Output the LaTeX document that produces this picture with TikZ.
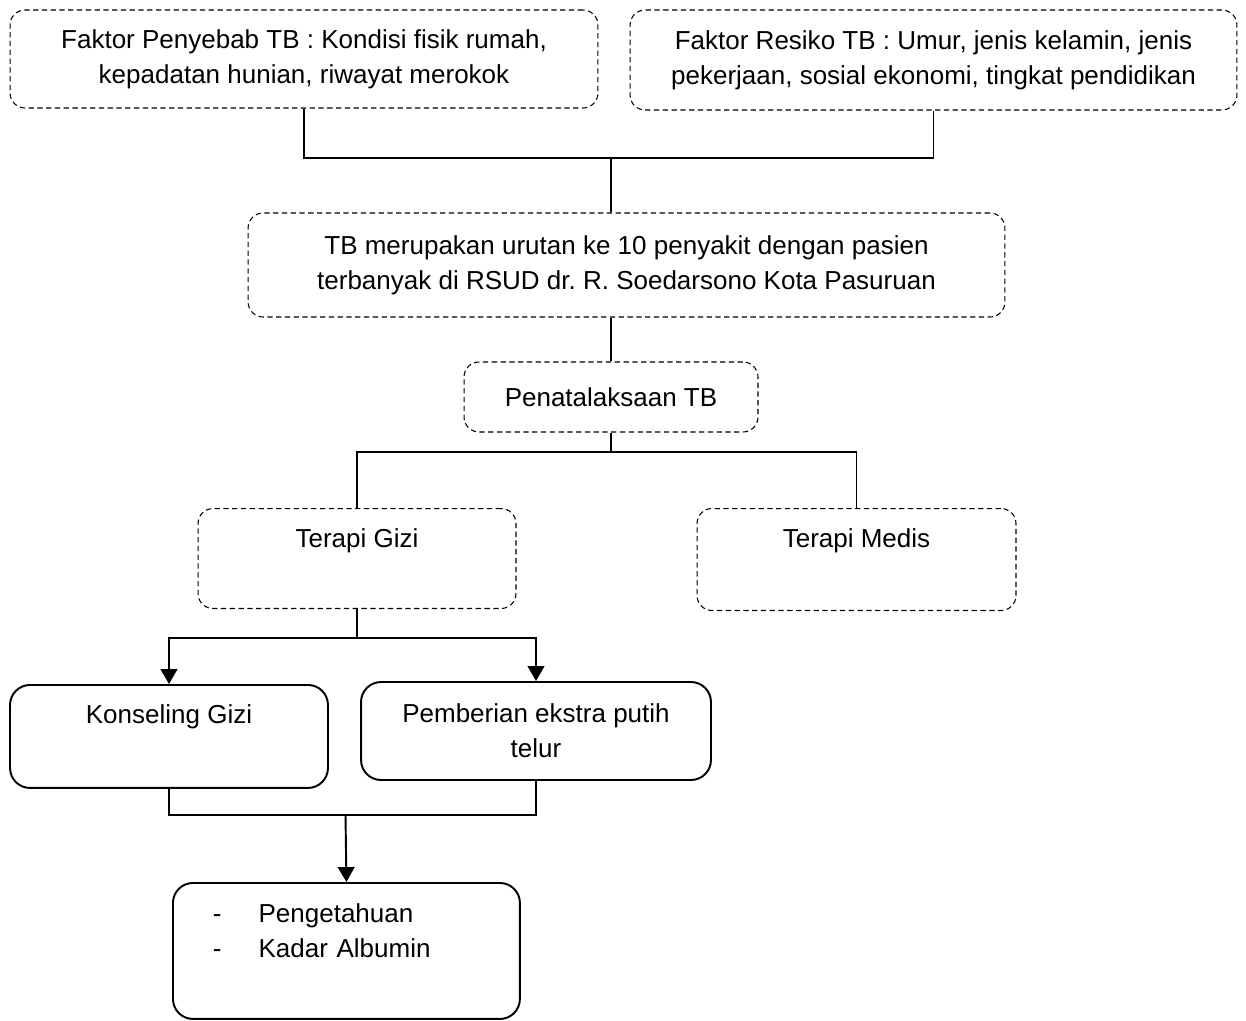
\documentclass[tikz,border=0pt]{standalone}
\usepackage{fontspec}
\setmainfont{Liberation Sans}
\usetikzlibrary{arrows.meta}
\frenchspacing

\begin{document}
\begin{tikzpicture}[x=0.02cm, y=-0.02cm,
    font=\fontsize{14.8}{19.9}\selectfont,
    kotak/.style={draw, dash pattern=on 3pt off 2pt, line width=0.6pt, rounded corners=0.3cm, align=center, inner sep=0pt},
    kotakpenuh/.style={draw, line width=1.1pt, rounded corners=0.4cm, align=center, inner sep=0pt},
    garis/.style={line width=1.1pt},
    panah/.style={garis, -{Triangle[width=9.5pt,length=8.5pt]}}]

\useasboundingbox (0,0) rectangle (1246,1020);

% Faktor penyebab dan faktor resiko (atas)
\node[kotak, minimum width=11.76cm, minimum height=1.96cm] (penyebab) at (304,59)
    {Faktor Penyebab TB : Kondisi fisik rumah,\\kepadatan hunian, riwayat merokok};
\node[kotak, minimum width=12.14cm, minimum height=2cm] (resiko) at (933.5,60)
    {Faktor Resiko TB : Umur, jenis kelamin, jenis\\pekerjaan, sosial ekonomi, tingkat pendidikan};

% TB dan penatalaksanaan
\node[kotak, minimum width=15.14cm, minimum height=2.08cm] (tb) at (626.5,265)
    {TB merupakan urutan ke 10 penyakit dengan pasien\\terbanyak di RSUD dr. R. Soedarsono Kota Pasuruan};
\node[kotak, minimum width=5.88cm, minimum height=1.4cm] (penata) at (611,397) {Penatalaksaan TB};

% Terapi
\node[kotak, anchor=north, minimum width=6.36cm, text height=0.78cm, text depth=1.22cm] (gizi) at (357,508) {Terapi Gizi};
\node[kotak, anchor=north, minimum width=6.38cm, text height=0.78cm, text depth=1.26cm] (medis) at (856.5,508) {Terapi Medis};

% Intervensi gizi
\node[kotakpenuh, anchor=north, minimum width=6.36cm, text height=0.78cm, text depth=1.28cm] (konseling) at (169,684) {Konseling Gizi};
\node[kotakpenuh, minimum width=7cm, minimum height=1.96cm] (pemberian) at (536,731)
    {Pemberian ekstra putih\\telur};

% Hasil
\node[kotakpenuh, anchor=north west, text width=5.34cm, inner xsep=0.8cm, align=left,
    text height=0.8cm, text depth=1.92cm] (hasil) at (172,882)
    {\mbox{-\hspace{0.74cm}Pengetahuan}\\\mbox{-\hspace{0.74cm}Kadar Albumin}};

% Garis penghubung
\coordinate (atas) at (611,158);
\draw[garis] (penyebab.south) |- (atas) -| (resiko.south);
\draw[garis] (atas) -- (atas |- tb.north);
\draw[garis] (tb.south -| penata.north) -- (penata.north);

\coordinate (cabang) at (611,452);
\draw[garis] (penata.south) -- (cabang);
\draw[garis] (gizi.north) |- (cabang) -| (medis.north);

\draw[garis] (gizi.south) -- ++(0,29) coordinate (gizibawah);
\draw[panah] (gizibawah) -| (konseling.north);
\draw[panah] (gizibawah) -| (pemberian.north);

\coordinate (gabung) at (345.5,815);
\draw[garis] (konseling.south) |- (gabung) -| (pemberian.south);
\draw[panah] (gabung) -- (hasil.north);

\end{tikzpicture}
\end{document}
